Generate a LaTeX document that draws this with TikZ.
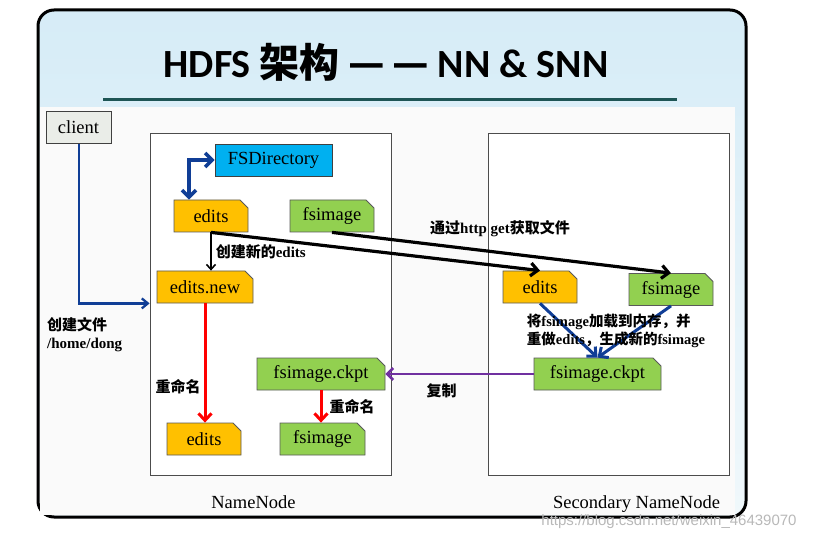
\documentclass[tikz,border=0pt]{standalone}
\usepackage{fontspec}
\setmainfont{Liberation Serif}
\newfontfamily\cjk{Noto Sans CJK SC}
\newfontfamily\titlefont{Carlito}
\newfontfamily\markfont{Liberation Sans}
\usetikzlibrary{calc,shapes.misc,arrows.meta}
\definecolor{editsColor}{RGB}{255, 192, 0}
\definecolor{imageColor}{RGB}{146, 208, 80}
\definecolor{dirColor}{RGB}{0, 176, 240}
\definecolor{clientColor}{RGB}{234, 237, 232}
\definecolor{flowBlue}{RGB}{16, 62, 150}
\definecolor{copyPurple}{RGB}{112, 48, 160}
\definecolor{ruleColor}{RGB}{30, 85, 85}
\definecolor{skyTop}{RGB}{214, 236, 247}
\definecolor{skyBottom}{RGB}{240, 248, 251}
\newcommand{\zh}[1]{{\cjk\bfseries #1}}

\begin{document}
\begin{tikzpicture}[
    x=1bp, y=-1bp,
    every node/.style={font=\fontsize{18.5bp}{20bp}\selectfont},
    file/.style={chamfered rectangle, chamfered rectangle corners=north east,
        chamfered rectangle xsep=5bp, draw=black!65, line width=0.8pt,
        inner sep=0pt, minimum height=32bp},
    edits file/.style={file, fill=editsColor},
    image file/.style={file, fill=imageColor},
    plain box/.style={rectangle, draw=black!75, line width=0.8pt, inner sep=0pt, minimum height=32bp},
    machine/.style={rectangle, draw=black!70, line width=0.8pt, fill=white, minimum width=241bp, minimum height=342bp},
    note/.style={font=\fontsize{15bp}{18bp}\selectfont\bfseries, text=black, inner sep=1pt},
    barb/.style={-{Straight Barb[length=7bp,width=13bp]}},
    black arrow/.style={barb, line width=3.2bp},
    blue arrow/.style={barb, flowBlue, line width=3bp},
    red arrow/.style={barb, red, line width=3bp},
]
    \useasboundingbox (0,0) rectangle (814,536);

    \draw[line width=3bp, rounded corners=16bp, top color=skyTop, bottom color=skyBottom]
        (38,10) rectangle (746,517);
    \fill[black!2] (40,107) rectangle (735,515);

    \node[font=\titlefont\bfseries\fontsize{40bp}{44bp}\selectfont] (title) at (386,62)
        {HDFS {\cjk\bfseries 架构} {\cjk\bfseries —\,—} NN \& SNN};
    \draw[ruleColor, line width=3bp] (103,100) -- (677,100);

    \node[plain box, fill=clientColor, minimum width=65bp] (client) at (78.5,127.5) {client};

    \node[machine] (nn_box) at (270.5,304) {};
    \node[below=17bp, xshift=-17bp] at (nn_box.south) {NameNode};
    \node[machine] (snn_box) at (608.5,304) {};
    \node[below=17bp, xshift=28bp] at (snn_box.south) {Secondary NameNode};

    \node[plain box, fill=dirColor, minimum width=117bp] (fsdir) at (273.5,160) {FSDirectory};
    \node[edits file, minimum width=74bp] (nn_edits) at (211,216) {edits};
    \node[image file, minimum width=84bp] (nn_fsimage) at (332,216) {fsimage};
    \node[edits file, minimum width=96bp] (edits_new) at (205,287) {edits.new};
    \node[edits file, minimum width=74bp] (nn_edits_final) at (204,439) {edits};
    \node[image file, minimum width=128bp] (nn_ckpt) at (321,374) {fsimage.ckpt};
    \node[image file, minimum width=85bp] (nn_fsimage_final) at (322.5,439) {fsimage};

    \node[edits file, minimum width=74bp] (snn_edits) at (540,287) {edits};
    \node[image file, minimum width=84bp] (snn_fsimage) at (671,289.5) {fsimage};
    \node[image file, minimum width=127bp] (snn_ckpt) at (597.5,374) {fsimage.ckpt};

    \coordinate (nn_entry) at (nn_box.west |- edits_new.south);
    \draw[-{Straight Barb[length=6bp,width=10bp]}, flowBlue, line width=2.3bp]
        ([xshift=0.5bp]client.south) |- (nn_entry);
    \node[note, anchor=north west, align=left] (create_note) at (46,316)
        {\zh{创建文件}\\/home/dong};

    \coordinate (dir_drop) at ([xshift=-22bp]nn_edits.north);
    \draw[{Straight Barb[length=7bp,width=14bp]}-{Straight Barb[length=7bp,width=14bp]}, flowBlue, line width=3.6bp]
        (fsdir.west) -| (dir_drop);

    \draw[-{Straight Barb[length=5bp,width=9bp]}, line width=1.6bp]
        (nn_edits.south) -- (nn_edits.south |- edits_new.north)
        node[note, midway, right=3bp] {\zh{创建新的}edits};

    \draw[black arrow] (nn_edits.south) -- (snn_edits.north);
    \draw[black arrow] (nn_fsimage.south) -- (snn_fsimage.north);
    \node[note] (http_note) at (500,229) {\zh{通过}http get\zh{获取文件}};

    \draw[blue arrow] (snn_edits.south) -- (snn_ckpt.north);
    \draw[blue arrow] (snn_fsimage.south) -- (snn_ckpt.north);
    \node[note, align=left, font=\fontsize{14.5bp}{18bp}\selectfont\bfseries] (merge_note) at (616,331)
        {\zh{将}fsimage\zh{加载到内存，并}\\\zh{重做}edits\zh{，生成新的}fsimage};

    \draw[-{Straight Barb[length=6bp,width=12bp]}, copyPurple, line width=2.6bp]
        (snn_ckpt.west) -- (nn_ckpt.east)
        node[note, pos=0.62, below=7bp] {\zh{复制}};

    \draw[red arrow] (edits_new.south) -- (edits_new.south |- nn_edits_final.north)
        node[note, pos=0.7, left=2bp] {\zh{重命名}};
    \draw[red arrow] (nn_ckpt.south) -- (nn_ckpt.south |- nn_fsimage_final.north)
        node[note, midway, right=6bp] {\zh{重命名}};

    \node[font=\markfont\fontsize{15bp}{16bp}\selectfont, text=black!28] (mark) at (669,522)
        {https://blog.csdn.net/weixin\_46439070};
\end{tikzpicture}
\end{document}
